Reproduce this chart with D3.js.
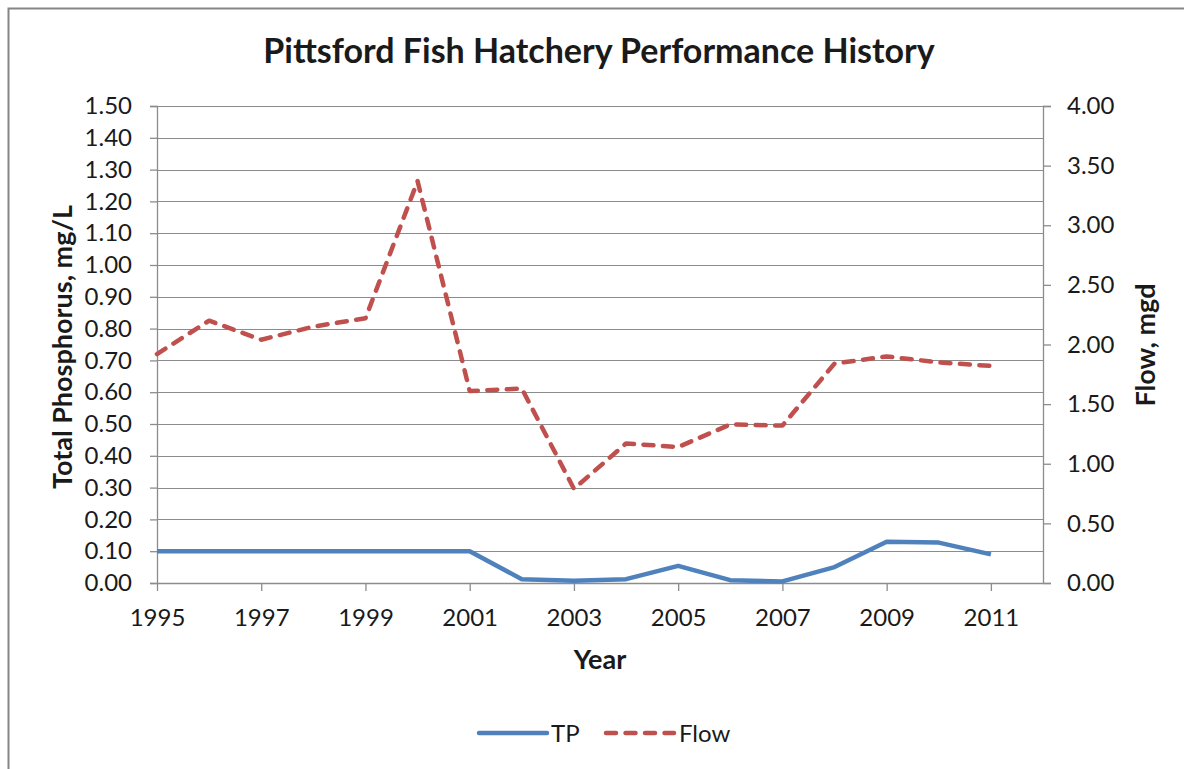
<!DOCTYPE html>
<html>
<head>
<meta charset="utf-8">
<script src="https://cdn.jsdelivr.net/npm/d3@7"></script>
<style>
  html, body { margin: 0; padding: 0; background: #fff; }
  svg { display: block; }
  text { font-family: Lato, "Open Sans", sans-serif; fill: #1a1a1a; }
</style>
</head>
<body>
<svg id="chart" width="1184" height="769"></svg>
<script>
const years = [1995,1996,1997,1998,1999,2000,2001,2002,2003,2004,2005,2006,2007,2008,2009,2010,2011];
const tp    = [0.10,0.10,0.10,0.10,0.10,0.10,0.10,0.012,0.007,0.012,0.054,0.009,0.005,0.050,0.130,0.127,0.090];
const flow  = [1.92,2.20,2.04,2.15,2.22,3.37,1.61,1.63,0.79,1.17,1.14,1.33,1.32,1.84,1.90,1.85,1.82];
const xTicks = [1995,1997,1999,2001,2003,2005,2007,2009,2011];
const leftTicks = [0,0.1,0.2,0.3,0.4,0.5,0.6,0.7,0.8,0.9,1.0,1.1,1.2,1.3,1.4,1.5];
const rightTicks = [0,0.5,1.0,1.5,2.0,2.5,3.0,3.5,4.0];
const seriesNames = ["TP","Flow"];

const svg = d3.select("#chart");
const m = {left:157, right:1043, top:106, bottom:583};
const x = d3.scaleLinear().domain([1995,2012]).range([m.left,m.right]);
const yL = d3.scaleLinear().domain([0,1.5]).range([m.bottom,m.top]);
const yR = d3.scaleLinear().domain([0,4]).range([m.bottom,m.top]);

const gridColor = "#8c8c8c";

// frame
svg.append("rect").attr("x",8.5).attr("y",8.5).attr("width",1200).attr("height",800)
  .attr("fill","#fff").attr("stroke","#868686").attr("stroke-width",2);

// title
svg.append("text").attr("x",599).attr("y",63).attr("text-anchor","middle")
  .attr("font-size",34).attr("font-weight","bold").text("Pittsford Fish Hatchery Performance History");

// gridlines
svg.append("g").selectAll("line").data(leftTicks.slice(1)).join("line")
  .attr("x1",m.left).attr("x2",m.right)
  .attr("y1",d=>Math.round(yL(d))+0.5).attr("y2",d=>Math.round(yL(d))+0.5)
  .attr("stroke",gridColor).attr("stroke-width",1);

// left axis
const gL = svg.append("g").attr("transform",`translate(${m.left},0)`)
  .call(d3.axisLeft(yL).tickValues(leftTicks).tickFormat(d3.format(".2f")).tickSize(7).tickPadding(18));
// right axis
const gR = svg.append("g").attr("transform",`translate(${m.right},0)`)
  .call(d3.axisRight(yR).tickValues(rightTicks).tickFormat(d3.format(".2f")).tickSize(8).tickPadding(16));
// bottom axis
const gB = svg.append("g").attr("transform",`translate(0,${m.bottom})`)
  .call(d3.axisBottom(x).tickValues(xTicks).tickFormat(d3.format("d")).tickSize(8).tickPadding(18));

[gL,gR,gB].forEach(g=>{
  g.select(".domain").attr("stroke",gridColor).attr("stroke-width",1.3);
  g.selectAll(".tick line").attr("stroke",gridColor).attr("stroke-width",1.3);
  g.selectAll(".tick text").attr("font-size",24).attr("fill","#1a1a1a").attr("font-family","Lato, sans-serif");
});
gB.select(".domain").attr("d",`M${m.left},0.5H${m.right}`);

// axis titles
svg.append("text").attr("transform",`translate(72,347) rotate(-90)`).attr("text-anchor","middle")
  .attr("font-size",27).attr("font-weight","bold").text("Total Phosphorus, mg/L");
svg.append("text").attr("transform",`translate(1155,345) rotate(-90)`).attr("text-anchor","middle")
  .attr("font-size",27).attr("font-weight","bold").text("Flow, mgd");
svg.append("text").attr("x",600).attr("y",669).attr("text-anchor","middle")
  .attr("font-size",27).attr("font-weight","bold").text("Year");

// lines
const lineTP = d3.line().x((d,i)=>x(years[i])).y(d=>yL(d));
const lineFlow = d3.line().x((d,i)=>x(years[i])).y(d=>yR(d));
const colors = {TP:"#4f81bd", Flow:"#c0504d"};

svg.append("path").datum(flow).attr("d",lineFlow).attr("fill","none")
  .attr("stroke",colors.Flow).attr("stroke-width",4.5).attr("stroke-dasharray","10,9.5")
  .attr("stroke-linecap","round").attr("stroke-linejoin","round");
svg.append("path").datum(tp).attr("d",lineTP).attr("fill","none")
  .attr("stroke",colors.TP).attr("stroke-width",4.5).attr("stroke-linejoin","round");

// legend
const lg = svg.append("g");
lg.append("line").attr("x1",479).attr("x2",547).attr("y1",733).attr("y2",733)
  .attr("stroke",colors.TP).attr("stroke-width",4.5).attr("stroke-linecap","round");
lg.append("text").attr("x",551).attr("y",742).attr("font-size",24).text(seriesNames[0]);
lg.append("line").attr("x1",606).attr("x2",674).attr("y1",733).attr("y2",733)
  .attr("stroke",colors.Flow).attr("stroke-width",4.5).attr("stroke-linecap","round")
  .attr("stroke-dasharray","10,9.5");
lg.append("text").attr("x",679).attr("y",742).attr("font-size",24).text(seriesNames[1]);
</script>
</body>
</html>
